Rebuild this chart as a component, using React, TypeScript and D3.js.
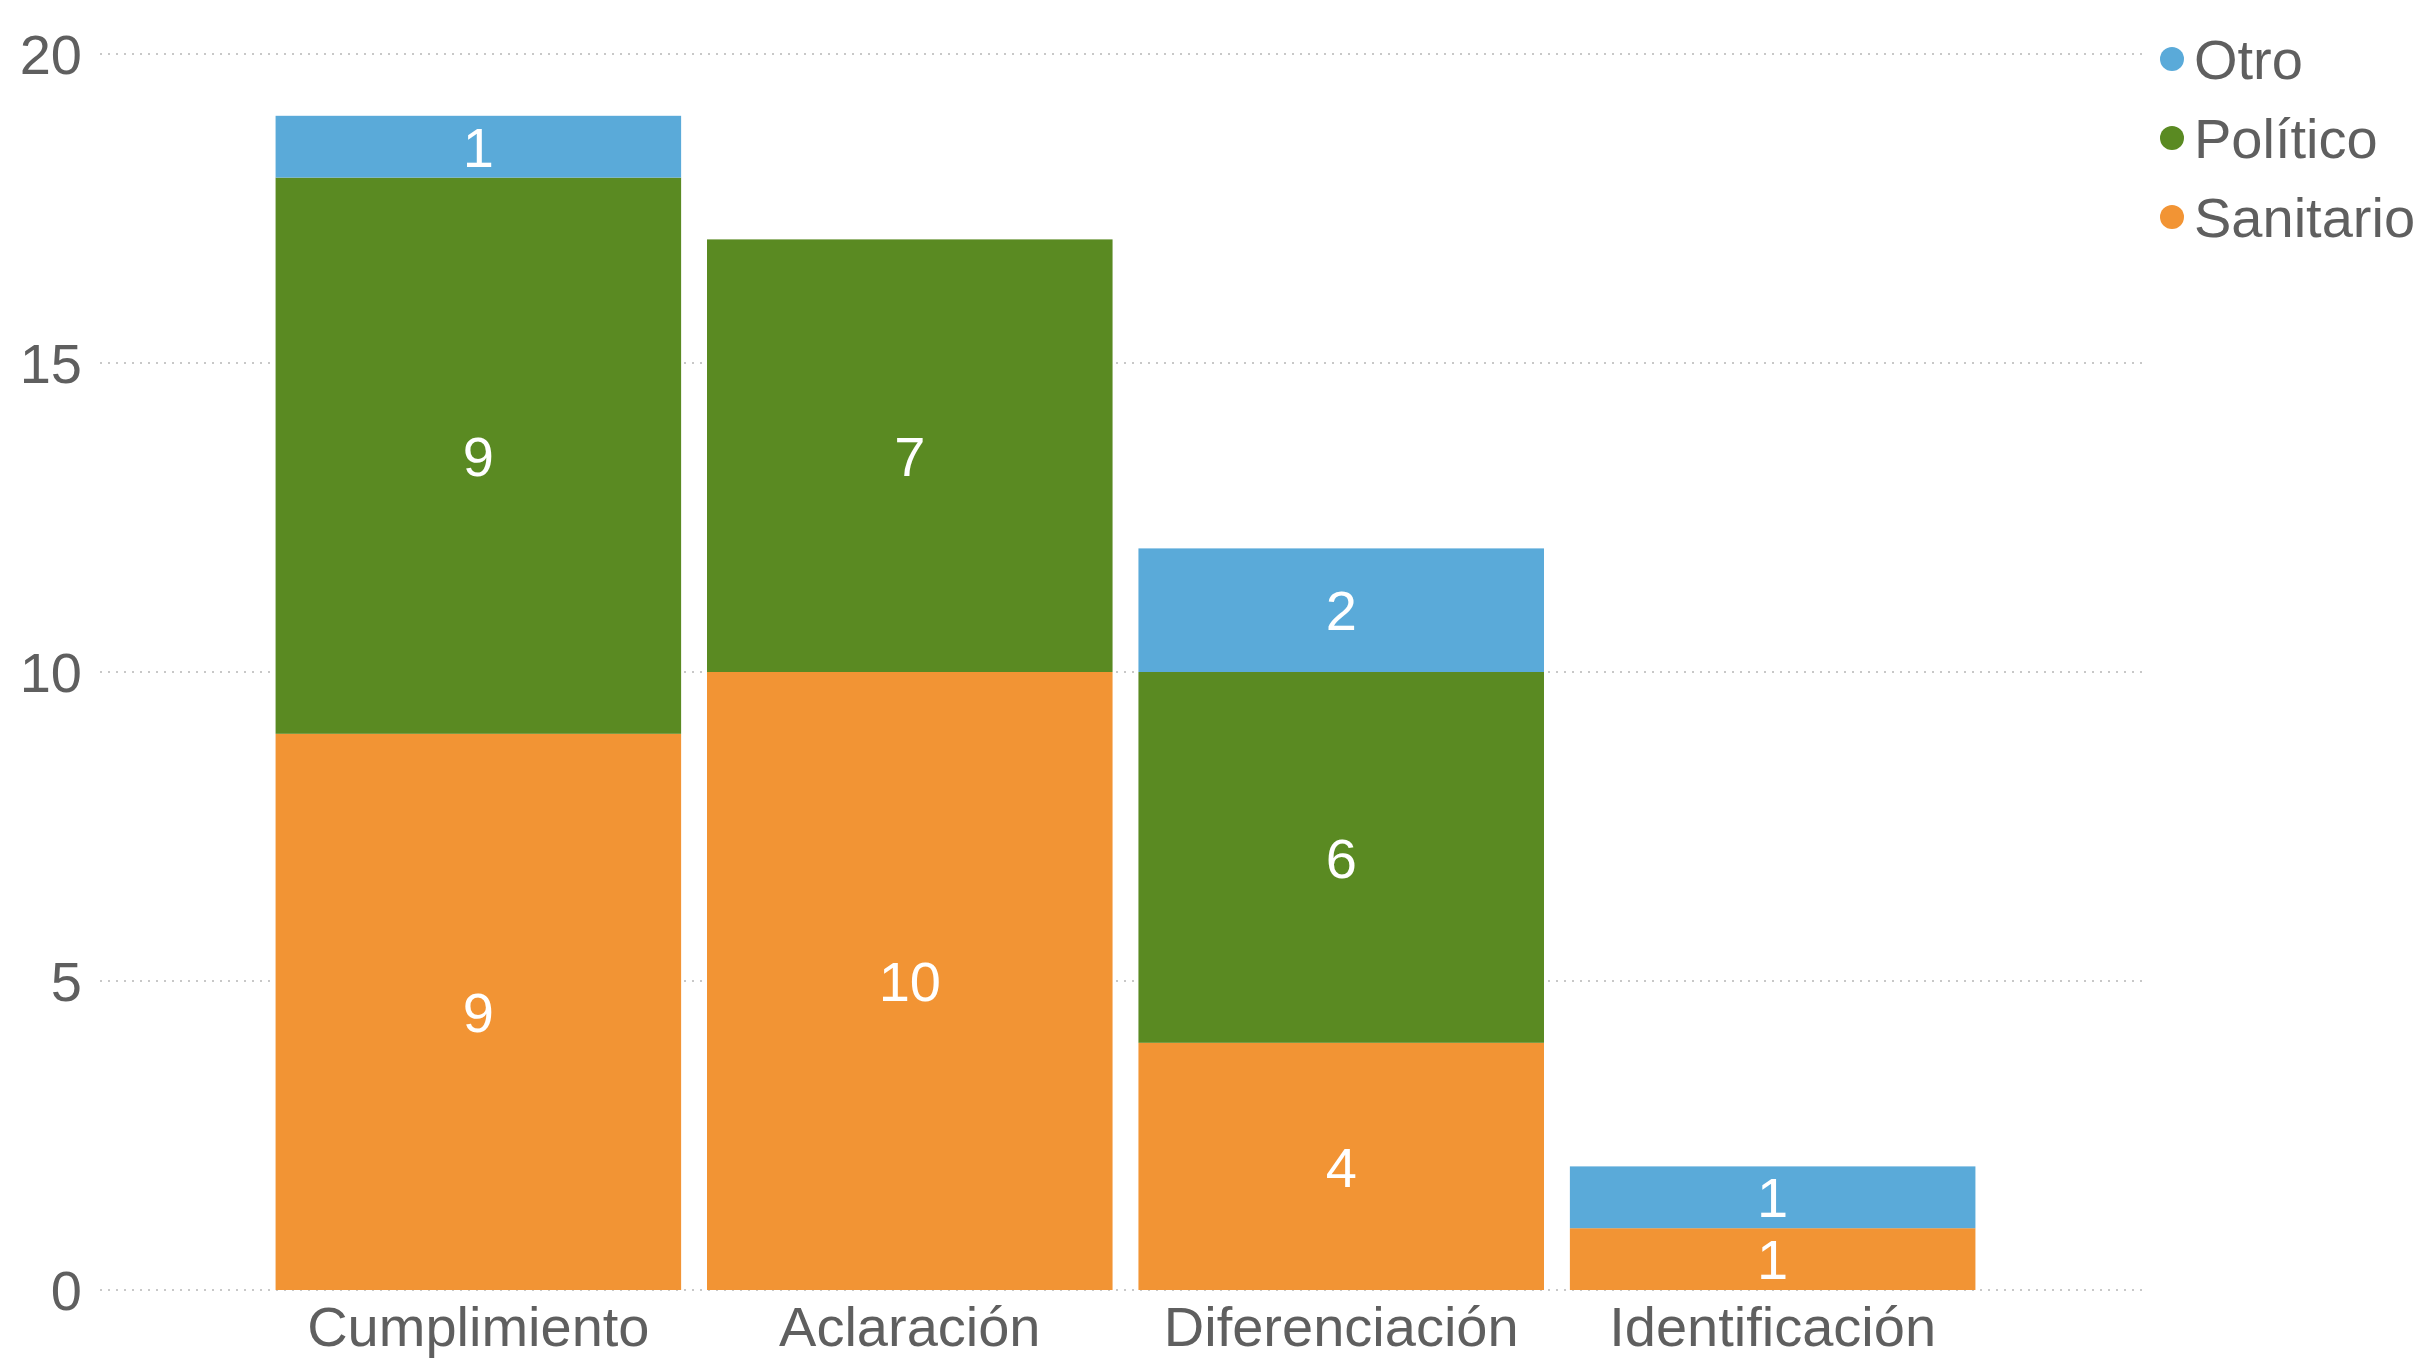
import { useEffect, useRef } from 'react';
import * as d3 from 'd3';

const categories = ['Cumplimiento', 'Aclaración', 'Diferenciación', 'Identificación'];
const seriesNames = ['Sanitario', 'Político', 'Otro'];
const sanitario = [9, 10, 4, 1];
const politico = [9, 7, 6, 0];
const otro = [1, 0, 2, 1];
const yTicks = [0, 5, 10, 15, 20];
const legendOrder = ['Otro', 'Político', 'Sanitario'];

const colorMap: Record<string, string> = {
  Sanitario: '#f29434',
  'Político': '#5a8a22',
  Otro: '#5aaad9',
};

export default function App() {
  const svgRef = useRef<SVGSVGElement>(null);

  useEffect(() => {
    if (!svgRef.current) return;
    const width = 2420;
    const height = 1361;
    const svg = d3.select(svgRef.current);
    svg.selectAll('*').remove();
    svg.attr('width', width).attr('height', height)
      .style('font-family', '"Liberation Sans", Arial, sans-serif');

    const rows = categories.map((c, i) => ({
      cat: c,
      Sanitario: sanitario[i],
      'Político': politico[i],
      Otro: otro[i],
    }));

    const x = d3.scaleBand()
      .domain(categories)
      .range([103, 2148])
      .paddingInner(0.06)
      .paddingOuter(0.4);

    const y = d3.scaleLinear().domain([0, 20]).range([1290, 54]);

    // grid
    const grid = svg.append('g');
    grid.selectAll('line')
      .data(yTicks)
      .join('line')
      .attr('x1', 100)
      .attr('x2', 2146)
      .attr('y1', d => y(d))
      .attr('y2', d => y(d))
      .attr('stroke', '#c8c8c8')
      .attr('stroke-width', 2)
      .attr('stroke-dasharray', '2 6');

    grid.selectAll('text')
      .data(yTicks)
      .join('text')
      .attr('x', 82)
      .attr('y', d => y(d))
      .attr('dy', '0.36em')
      .attr('text-anchor', 'end')
      .attr('fill', '#5f5f5f')
      .attr('font-size', 56)
      .text(d => d);

    const stack = d3.stack<any>().keys(seriesNames);
    const stacked = stack(rows);

    const layers = svg.append('g')
      .selectAll('g')
      .data(stacked)
      .join('g')
      .attr('fill', d => colorMap[d.key]);

    layers.selectAll('rect')
      .data(d => d.filter(s => s[1] - s[0] > 0))
      .join('rect')
      .attr('x', d => x(d.data.cat) as number)
      .attr('width', x.bandwidth())
      .attr('y', d => y(d[1]))
      .attr('height', d => y(d[0]) - y(d[1]));

    layers.selectAll('text')
      .data(d => d.filter(s => s[1] - s[0] > 0))
      .join('text')
      .attr('x', d => (x(d.data.cat) as number) + x.bandwidth() / 2)
      .attr('y', d => (y(d[0]) + y(d[1])) / 2)
      .attr('dy', '0.36em')
      .attr('text-anchor', 'middle')
      .attr('fill', '#ffffff')
      .attr('font-size', 56)
      .text(d => d[1] - d[0]);

    // category labels
    svg.append('g')
      .selectAll('text')
      .data(categories)
      .join('text')
      .attr('x', d => (x(d) as number) + x.bandwidth() / 2)
      .attr('y', 1346)
      .attr('text-anchor', 'middle')
      .attr('fill', '#5f5f5f')
      .attr('font-size', 56)
      .text(d => d);

    // legend
    const legend = svg.append('g')
      .selectAll('g')
      .data(legendOrder)
      .join('g')
      .attr('transform', (_, i) => `translate(2172,${59 + i * 79})`);
    legend.append('circle')
      .attr('r', 12)
      .attr('fill', d => colorMap[d]);
    legend.append('text')
      .attr('x', 22)
      .attr('dy', '0.36em')
      .attr('fill', '#5f5f5f')
      .attr('font-size', 56)
      .text(d => d);
  }, []);

  return (
    <div style={{ position: 'absolute', left: 0, top: 0 }}>
      <svg ref={svgRef} style={{ display: 'block' }} />
    </div>
  );
}
